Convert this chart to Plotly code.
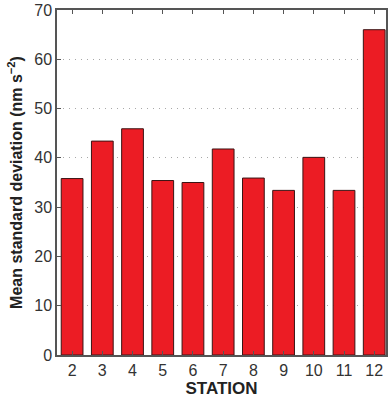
import plotly.graph_objects as go

stations = [2, 3, 4, 5, 6, 7, 8, 9, 10, 11, 12]
mean_sd = [35.8, 43.4, 45.9, 35.4, 35.0, 41.8, 35.9, 33.4, 40.1, 33.4, 66.0]
y_ticks = [0, 10, 20, 30, 40, 50, 60, 70]

fig = go.Figure(go.Bar(
    x=stations, y=mean_sd, width=0.72,
    marker=dict(color="#EC1C24", line=dict(color="#3a1414", width=1)),
))

font = "Liberation Sans, Arial, sans-serif"
fig.update_layout(
    width=388, height=401,
    margin=dict(l=57, r=0, t=10, b=46),
    paper_bgcolor="white", plot_bgcolor="white",
    showlegend=False,
    font=dict(family=font, color="#333333"),
)
fig.update_xaxes(
    range=[1.5, 12.39], tickvals=stations, ticktext=[str(s) for s in stations],
    ticks="inside", ticklen=4, tickcolor="#555555",
    showline=True, linecolor="#555555", linewidth=1.5, mirror="ticks",
    showgrid=False, zeroline=False,
    tickfont=dict(size=16, color="#333333"),
    title=dict(text="<b>STATION</b>", font=dict(size=17, color="#222222"), standoff=4),
)
fig.update_yaxes(
    range=[0, 70], tickvals=y_ticks,
    ticks="inside", ticklen=4, tickcolor="#555555",
    showline=True, linecolor="#555555", linewidth=1.5, mirror=True,
    showgrid=True, gridcolor="#a8a8a8", griddash="1px,5px", gridwidth=1,
    zeroline=False,
    tickfont=dict(size=16, color="#333333"),
    title=dict(text="<b>Mean standard deviation (nm s<sup>−2</sup>)</b>",
               font=dict(size=16, color="#222222"), standoff=8),
)
fig.write_html("out.html")
